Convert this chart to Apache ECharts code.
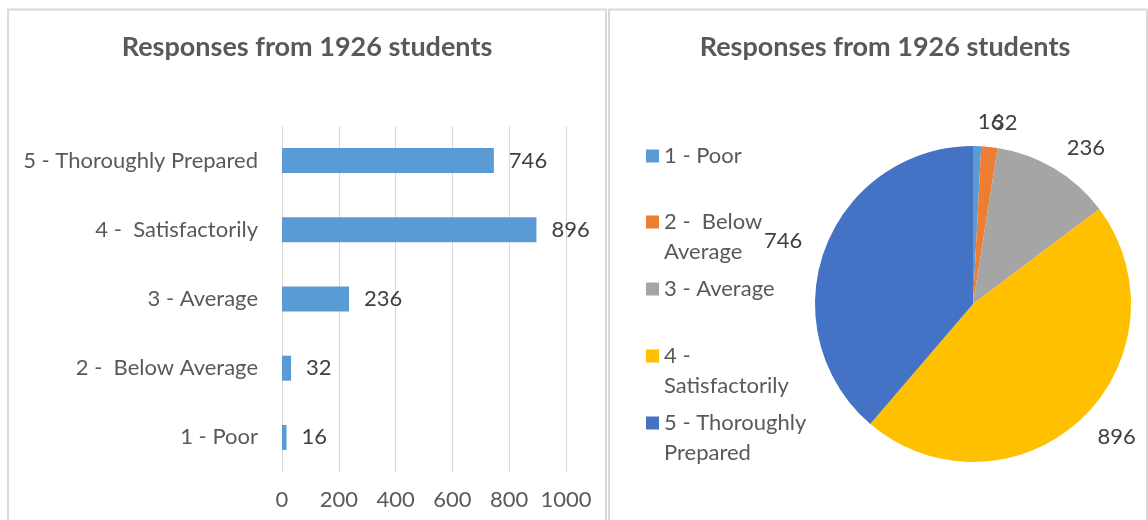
<!DOCTYPE html>
<html>
<head>
<meta charset="utf-8">
<script src="https://cdn.jsdelivr.net/npm/echarts@6/dist/echarts.min.js"></script>
<style>
html,body{margin:0;padding:0;background:#fff;}
#chart{width:1148px;height:520px;}
</style>
</head>
<body>
<div id="chart"></div>
<script>
var titleText = 'Responses from 1926 students';
var categories = ['1 - Poor', '2 -  Below Average', '3 - Average', '4 -  Satisfactorily', '5 - Thoroughly Prepared'];
var values = [16, 32, 236, 896, 746];
var legendLabels = ['1 - Poor', '2 -  Below\nAverage', '3 - Average', '4 -\nSatisfactorily', '5 - Thoroughly\nPrepared'];
var pieColors = ['#5B9BD5', '#ED7D31', '#A5A5A5', '#FFC000', '#4472C4'];
var xTicks = [0, 200, 400, 600, 800, 1000];

var FONT = 'Lato, "Open Sans", sans-serif';
var chart = echarts.init(document.getElementById('chart'), null, {renderer: 'canvas'});

// y of each legend icon centre (layout only)
var legendIconY = [156, 222, 289, 356, 423];
var legends = categories.map(function (c, i) {
  var twoLines = legendLabels[i].indexOf('\n') >= 0;
  return {
    orient: 'vertical',
    left: 646,
    top: twoLines ? legendIconY[i] - 45 : legendIconY[i] - 15,
    padding: 0,
    itemGap: 0,
    itemWidth: 13,
    itemHeight: 13,
    icon: 'rect',
    selectedMode: false,
    data: [c],
    formatter: function (name) {
      var t = legendLabels[categories.indexOf(name)];
      return t.indexOf('\n') >= 0 ? '\n' + t : t;
    },
    textStyle: {fontFamily: FONT, fontSize: 22, color: '#595959', lineHeight: 30}
  };
});

var option = {
  animation: false,
  backgroundColor: '#fff',
  color: pieColors,
  title: [
    {text: titleText, left: 307, top: 34, textAlign: 'center', padding: 0,
     textStyle: {fontFamily: FONT, fontSize: 27, fontWeight: 'bold', color: '#595959'}},
    {text: titleText, left: 885, top: 34, textAlign: 'center', padding: 0,
     textStyle: {fontFamily: FONT, fontSize: 27, fontWeight: 'bold', color: '#595959'}}
  ],
  graphic: [
    {type: 'rect', shape: {x: 8, y: 9.5, width: 598, height: 530}, style: {fill: 'none', stroke: '#D9D9D9', lineWidth: 2}, silent: true},
    {type: 'rect', shape: {x: 609, y: 9.5, width: 538, height: 530}, style: {fill: 'none', stroke: '#D9D9D9', lineWidth: 2}, silent: true}
  ],
  legend: legends,
  grid: {left: 282, top: 126, width: 284, height: 346},
  xAxis: {
    type: 'value', min: xTicks[0], max: xTicks[xTicks.length - 1], interval: 200,
    axisLine: {show: false}, axisTick: {show: false},
    splitLine: {lineStyle: {color: '#D9D9D9', width: 1}},
    axisLabel: {fontFamily: FONT, fontSize: 22, color: '#595959', margin: 17,
      formatter: function (v) { return String(v); }}
  },
  yAxis: {
    type: 'category', data: categories,
    axisLine: {show: false}, axisTick: {show: false},
    axisLabel: {fontFamily: FONT, fontSize: 22, color: '#595959', margin: 24}
  },
  series: [
    {
      type: 'bar', data: values, barWidth: 25,
      itemStyle: {color: '#5B9BD5'},
      label: {show: true, position: 'right', distance: 15, fontFamily: FONT, fontSize: 22, color: '#404040'}
    },
    {
      type: 'pie', center: [973, 304], radius: 158, startAngle: 90, clockwise: true,
      avoidLabelOverlap: false,
      labelLayout: {hideOverlap: false},
      data: categories.map(function (c, i) { return {name: c, value: values[i], itemStyle: {color: pieColors[i]}}; }),
      label: {show: true, position: 'outside', formatter: '{c}', fontFamily: FONT, fontSize: 22, color: '#404040', distanceToLabelLine: 0},
      labelLine: {show: false, length: 24, length2: 0},
      itemStyle: {borderWidth: 0}
    }
  ]
};
chart.setOption(option);
</script>
</body>
</html>
